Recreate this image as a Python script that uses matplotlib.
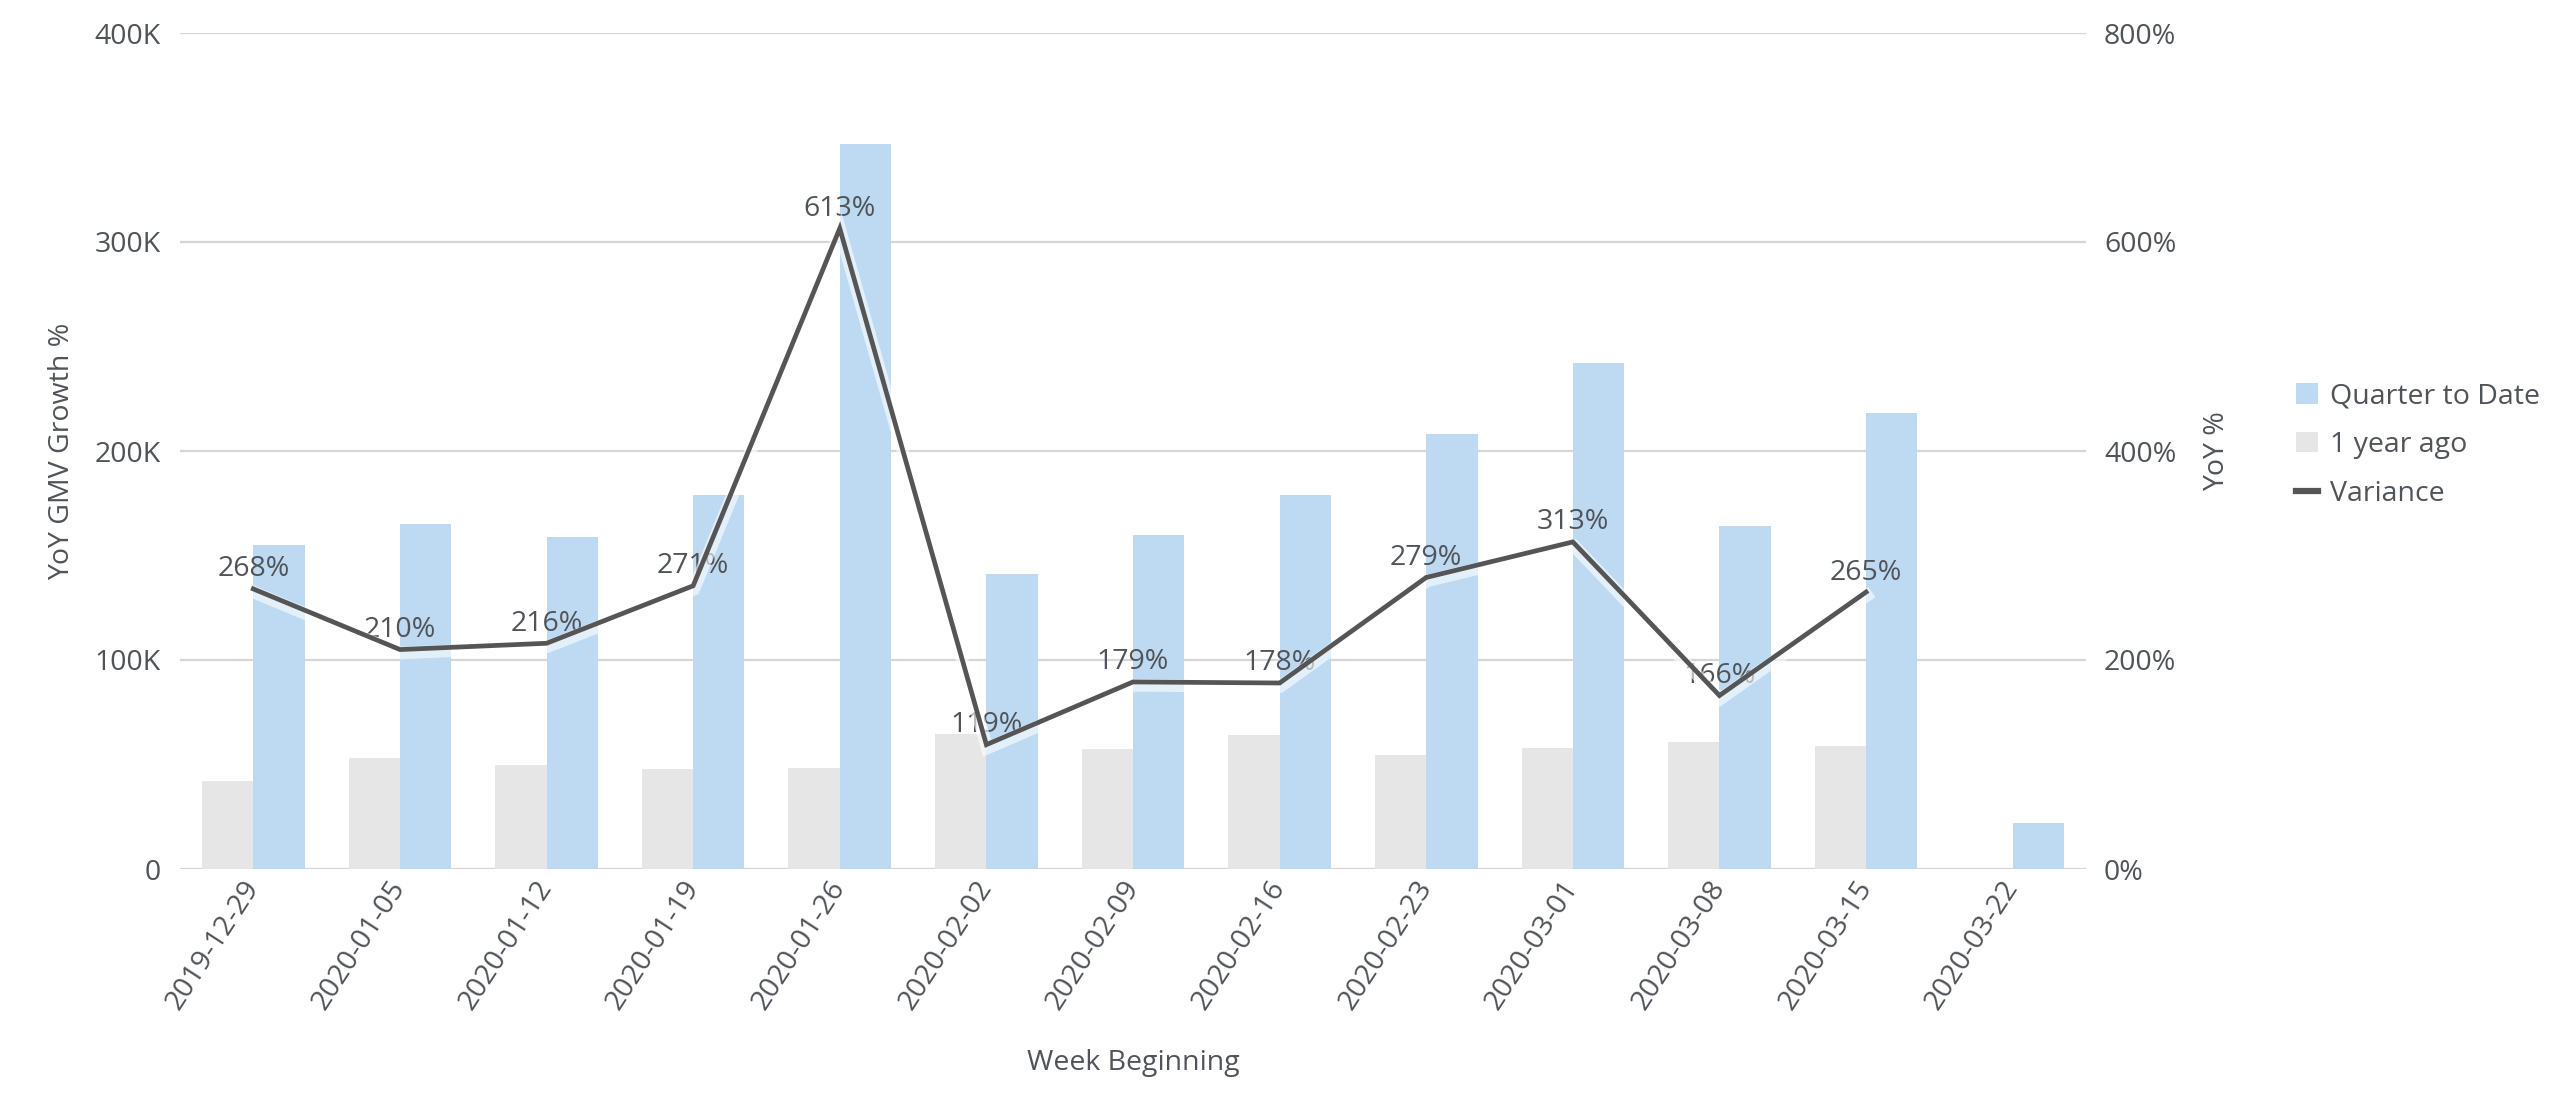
import matplotlib
matplotlib.use("Agg")
import matplotlib.pyplot as plt
import matplotlib.patheffects as pe
from matplotlib.patches import Patch
from matplotlib.lines import Line2D
import numpy as np

plt.rcParams['font.family'] = ['Open Sans', 'DejaVu Sans']

weeks = ["2019-12-29", "2020-01-05", "2020-01-12", "2020-01-19", "2020-01-26",
         "2020-02-02", "2020-02-09", "2020-02-16", "2020-02-23", "2020-03-01",
         "2020-03-08", "2020-03-15", "2020-03-22"]
quarter_to_date = [155000, 165000, 159000, 179000, 347000, 141000, 160000,
                   179000, 208000, 242000, 164000, 218000, 22000]
year_ago = [42000, 53000, 50000, 48000, 48500, 64500, 57500, 64000, 54500,
            58000, 61000, 59000, None]
variance = [268, 210, 216, 271, 613, 119, 179, 178, 279, 313, 166, 265, None]

left_ticks = [0, 100000, 200000, 300000, 400000]
left_labels = ["0", "100K", "200K", "300K", "400K"]
right_ticks = [0, 200, 400, 600, 800]
right_labels = ["0%", "200%", "400%", "600%", "800%"]

BLUE = "#bddaf2"
GRAY = "#e6e6e6"
LINE = "#555555"
TEXT = "#505459"
GRID = "#d6d6d6"
FS = 20.5

fig = plt.figure(figsize=(25.6, 11), dpi=100)
ax = fig.add_axes([180/2560, 1-869/1100, (2086-180)/2560, (869-33)/1100])
ax2 = ax.twinx()

x = np.arange(len(weeks))
w = 0.35
ya = np.array([np.nan if v is None else v for v in year_ago], dtype=float)
ax.bar(x - w/2, ya, width=w, color=GRAY, zorder=2)
ax.bar(x + w/2, quarter_to_date, width=w, color=BLUE, zorder=2)

ax.set_xlim(-0.5, len(weeks) - 0.5)
ax.set_ylim(0, 400000)
ax.set_yticks(left_ticks)
ax.set_yticklabels(left_labels)
ax.grid(axis='y', color=GRID, linewidth=1.6, zorder=0)
ax.set_axisbelow(True)
for s in ax.spines.values():
    s.set_visible(False)
for s in ax2.spines.values():
    s.set_visible(False)
ax.tick_params(axis='y', length=0, pad=14, labelsize=FS, labelcolor=TEXT)
ax.tick_params(axis='x', length=0, pad=10, labelsize=FS, labelcolor=TEXT)
ax.set_xticks(x)
ax.set_xticklabels(weeks, rotation=57, ha='right', va='center', rotation_mode='anchor')

ax2.set_ylim(0, 800)
ax2.set_yticks(right_ticks)
ax2.set_yticklabels(right_labels)
ax2.tick_params(axis='y', length=0, pad=13, labelsize=FS, labelcolor=TEXT)

var = np.array([np.nan if v is None else v for v in variance], dtype=float)
ax2.plot(x, var, color=LINE, linewidth=3.4, zorder=5, solid_joinstyle='miter',
         path_effects=[pe.SimpleLineShadow(offset=(0.5, -2.5), shadow_color='white',
                                           alpha=0.6, linewidth=9),
                       pe.Normal()])
for xi, v in zip(x, variance):
    if v is None:
        continue
    ax2.annotate(f"{v}%", (xi, v), xytext=(0, 4), textcoords='offset points',
                 ha='center', va='bottom', fontsize=FS, color=TEXT, zorder=4)

fig.text(62/2560, 1-451/1100, "YoY GMV Growth %", rotation=90, ha='center', va='center',
         fontsize=FS, color=TEXT)
fig.text(2217/2560, 1-451/1100, "YoY %", rotation=90, ha='center', va='center',
         fontsize=FS, color=TEXT)
fig.text(1133/2560, 1-1063/1100, "Week Beginning", ha='center', va='center',
         fontsize=FS, color=TEXT)

handles = [Patch(facecolor=BLUE, edgecolor='none'),
           Patch(facecolor=GRAY, edgecolor='none'),
           Line2D([0], [0], color=LINE, linewidth=4.5)]
labels = ["Quarter to Date", "1 year ago", "Variance"]
fig.legend(handles, labels, loc='center left', bbox_to_anchor=(2282/2560, 1-445/1100),
           frameon=False, fontsize=FS, labelcolor=TEXT, handlelength=0.75,
           handleheight=0.75, handletextpad=0.45, labelspacing=0.73, borderpad=0)

fig.savefig("out.png", dpi=100, facecolor='white')
